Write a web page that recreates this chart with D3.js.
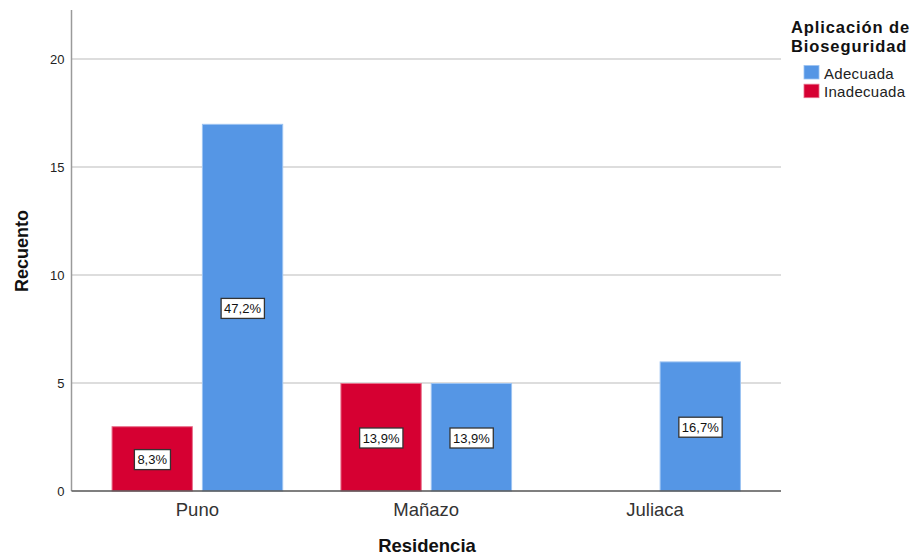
<!DOCTYPE html>
<html lang="es">
<head>
<meta charset="utf-8">
<script src="https://cdn.jsdelivr.net/npm/d3@7"></script>
<style>
  html, body { margin: 0; padding: 0; background: #fff; }
  svg { display: block; font-family: "Liberation Sans", Arial, sans-serif; }
</style>
</head>
<body>
<svg id="chart" width="923" height="556"></svg>
<script>
// Recuento por residencia y aplicación de bioseguridad
const categories = ["Puno", "Mañazo", "Juliaca"];
const seriesNames = ["Inadecuada", "Adecuada"];
const inadecuada = [3, 5, 0];
const adecuada = [17, 5, 6];
const inadecuadaPct = ["8,3%", "13,9%", null];
const adecuadaPct = ["47,2%", "13,9%", "16,7%"];
const yTicks = [0, 5, 10, 15, 20];
const legendOrder = ["Adecuada", "Inadecuada"];

const colors = { Adecuada: "#5596e5", Inadecuada: "#d60032" };
const edges = { Adecuada: "#9cc3f2", Inadecuada: "#e8708c" };

const svg = d3.select("#chart");
const plot = { left: 71.5, right: 781, top: 10, bottom: 491 };

const y = d3.scaleLinear().domain([0, 22.27]).range([plot.bottom, plot.top]);
const x0 = d3.scaleBand().domain(categories).range([plot.left, plot.right])
  .paddingInner(0.25).paddingOuter(0.175);
const x1 = d3.scaleBand().domain(seriesNames).range([0, x0.bandwidth()]).paddingInner(0.1);

// gridlines
svg.append("g")
  .selectAll("line")
  .data(yTicks.filter(d => d > 0))
  .join("line")
  .attr("x1", plot.left).attr("x2", plot.right)
  .attr("y1", d => y(d)).attr("y2", d => y(d))
  .attr("stroke", "#d2d2d2").attr("stroke-width", 1.5);

// y axis
const yAxis = svg.append("g")
  .attr("transform", `translate(${plot.left},0)`)
  .call(d3.axisLeft(y).tickValues(yTicks).tickSize(0).tickPadding(7));
yAxis.select(".domain").remove();
yAxis.selectAll("text")
  .attr("font-size", 13).attr("fill", "#222")
  .attr("font-family", "Liberation Sans, Arial, sans-serif");
svg.append("line")
  .attr("x1", plot.left).attr("x2", plot.left)
  .attr("y1", plot.top).attr("y2", plot.bottom)
  .attr("stroke", "#9a9a9a").attr("stroke-width", 1.5);

// bars
const rows = categories.map((c, i) => ({
  cat: c,
  items: [
    { s: "Inadecuada", v: inadecuada[i], pct: inadecuadaPct[i] },
    { s: "Adecuada", v: adecuada[i], pct: adecuadaPct[i] }
  ]
}));

const groups = svg.append("g").selectAll("g")
  .data(rows)
  .join("g")
  .attr("transform", d => `translate(${x0(d.cat)},0)`);

groups.selectAll("rect")
  .data(d => d.items.filter(it => it.v > 0))
  .join("rect")
  .attr("x", d => x1(d.s) + 0.5)
  .attr("width", x1.bandwidth() - 1)
  .attr("y", d => y(d.v) + 0.5)
  .attr("height", d => y(0) - y(d.v) - 0.5)
  .attr("fill", d => colors[d.s])
  .attr("stroke", d => edges[d.s])
  .attr("stroke-width", 1);

// value labels
const labels = groups.selectAll("g.lbl")
  .data(d => d.items.filter(it => it.v > 0 && it.pct))
  .join("g")
  .attr("class", "lbl")
  .attr("transform", d => `translate(${x1(d.s) + x1.bandwidth() / 2},${(y(d.v) + y(0)) / 2 + 1})`);

labels.append("text")
  .attr("text-anchor", "middle")
  .attr("dy", "0.36em")
  .attr("font-size", 13)
  .attr("fill", "#111")
  .text(d => d.pct)
  .each(function () {
    const b = this.getBBox();
    d3.select(this.parentNode).insert("rect", "text")
      .attr("x", b.x - 3).attr("y", -10)
      .attr("width", b.width + 6).attr("height", 20)
      .attr("fill", "#fff").attr("stroke", "#333").attr("stroke-width", 1.3);
  });

// x axis baseline and category labels
svg.append("line")
  .attr("x1", plot.left).attr("x2", plot.right)
  .attr("y1", plot.bottom).attr("y2", plot.bottom)
  .attr("stroke", "#555").attr("stroke-width", 1.3);

svg.append("g").selectAll("text")
  .data(categories)
  .join("text")
  .attr("x", d => x0(d) + x0.bandwidth() / 2)
  .attr("y", 516)
  .attr("text-anchor", "middle")
  .attr("font-size", 18.5)
  .attr("fill", "#333")
  .text(d => d);

// axis titles
svg.append("text")
  .attr("x", 427).attr("y", 552)
  .attr("text-anchor", "middle")
  .attr("font-size", 18.5).attr("font-weight", "bold").attr("fill", "#111")
  .text("Residencia");

svg.append("text")
  .attr("transform", "translate(28,251) rotate(-90)")
  .attr("text-anchor", "middle")
  .attr("font-size", 18).attr("font-weight", "bold").attr("fill", "#111")
  .text("Recuento");

// legend
const legend = svg.append("g");
legend.append("text")
  .attr("x", 791).attr("y", 33)
  .attr("font-size", 16.5).attr("font-weight", "bold").attr("letter-spacing", 0.9).attr("fill", "#111")
  .text("Aplicación de");
legend.append("text")
  .attr("x", 791).attr("y", 52)
  .attr("font-size", 16.5).attr("font-weight", "bold").attr("letter-spacing", 0.9).attr("fill", "#111")
  .text("Bioseguridad");

const items = legend.selectAll("g.item")
  .data(legendOrder)
  .join("g")
  .attr("class", "item")
  .attr("transform", (d, i) => `translate(804,${65.5 + i * 18.7})`);
items.append("rect")
  .attr("width", 15).attr("height", 13.5)
  .attr("fill", d => colors[d])
  .attr("stroke", d => edges[d]).attr("stroke-width", 0.8);
items.append("text")
  .attr("x", 20).attr("y", 13)
  .attr("font-size", 15).attr("letter-spacing", 0.3).attr("fill", "#222")
  .text(d => d);
</script>
</body>
</html>
